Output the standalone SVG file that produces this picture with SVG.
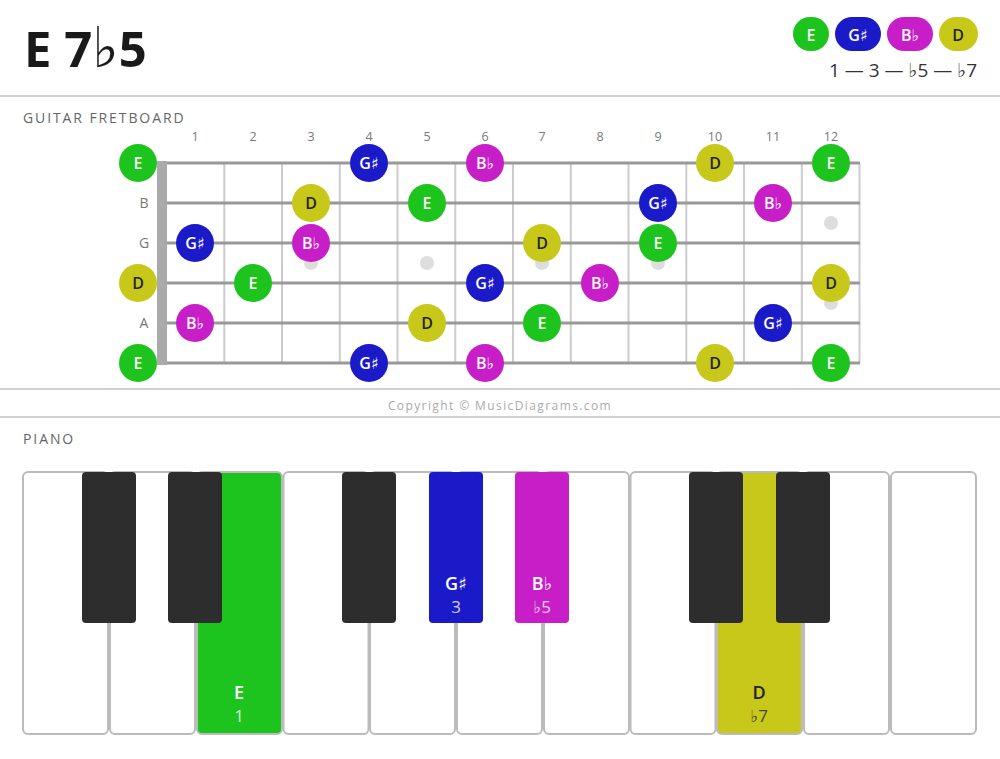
<svg xmlns="http://www.w3.org/2000/svg" width="1000" height="759" viewBox="0 0 1000 759">
<style>
text{font-family:"Open Sans","Noto Sans","DejaVu Sans",sans-serif}
.sep{stroke:#d0d0d0;stroke-width:2}
.hdr{font-size:14px;fill:#666;letter-spacing:1.9px}
.fn{font-size:12.5px;fill:#777;text-anchor:middle}
.sl{font-size:14px;fill:#777;text-anchor:middle}
.str{stroke:#999;stroke-width:3}
.fret{stroke:#ccc;stroke-width:2}
.dot{fill:#ddd}
.wk{fill:#fff;stroke:#bbb;stroke-width:2}
.bk{fill:#2d2d2d}
.E{fill:#1ec41e}.Gs{fill:#1a1ac8}.Bb{fill:#c81ec8}.D{fill:#c8c81a}
.nl{font-size:16px;font-weight:600;text-anchor:middle}
.w{fill:#fff}.k{fill:#222}
.pl{font-size:18px;font-weight:600;text-anchor:middle}
.pi{font-size:17px;text-anchor:middle}
</style>
<rect width="1000" height="759" fill="#fff"/>
<g id="title"><text x="24" y="67" font-size="49" font-weight="bold" fill="#1a1a1a">E 7<tspan font-weight="normal" font-family="DejaVu Sans, sans-serif" font-size="56">♭</tspan>5</text></g>
<g id="legend">
<rect x="793" y="17" width="36" height="34" rx="17" class="E"/><text x="811" y="41" class="nl w">E</text>
<rect x="835" y="17" width="46" height="34" rx="17" class="Gs"/><text x="858" y="41" class="nl w">G♯</text>
<rect x="887" y="17" width="46" height="34" rx="17" class="Bb"/><text x="910" y="41" class="nl w">B♭</text>
<rect x="939" y="17" width="39" height="34" rx="17" class="D"/><text x="958" y="41" class="nl k">D</text>
<text x="977" y="77" font-size="19" fill="#333" text-anchor="end">1 — 3 — ♭5 — ♭7</text>
</g>
<g id="separators">
<line x1="0" y1="96" x2="1000" y2="96" class="sep"/>
<line x1="0" y1="389" x2="1000" y2="389" class="sep"/>
<line x1="0" y1="417" x2="1000" y2="417" class="sep"/>
</g>
<text x="23" y="123" class="hdr">GUITAR FRETBOARD</text>
<g id="fretboard">
<g id="inlays">
<circle cx="311" cy="263" r="7" class="dot"/><circle cx="427" cy="263" r="7" class="dot"/><circle cx="542" cy="263" r="7" class="dot"/><circle cx="658" cy="263" r="7" class="dot"/>
<circle cx="831" cy="223" r="7" class="dot"/><circle cx="831" cy="303" r="7" class="dot"/>
</g>
<g id="frets">
<line x1="224.3" y1="163" x2="224.3" y2="363" class="fret"/><line x1="282" y1="163" x2="282" y2="363" class="fret"/><line x1="339.8" y1="163" x2="339.8" y2="363" class="fret"/><line x1="397.5" y1="163" x2="397.5" y2="363" class="fret"/><line x1="455.3" y1="163" x2="455.3" y2="363" class="fret"/><line x1="513" y1="163" x2="513" y2="363" class="fret"/><line x1="570.8" y1="163" x2="570.8" y2="363" class="fret"/><line x1="628.5" y1="163" x2="628.5" y2="363" class="fret"/><line x1="686.3" y1="163" x2="686.3" y2="363" class="fret"/><line x1="744" y1="163" x2="744" y2="363" class="fret"/><line x1="801.8" y1="163" x2="801.8" y2="363" class="fret"/><line x1="859.5" y1="163" x2="859.5" y2="363" class="fret"/>
</g>
<g id="strings">
<line x1="160" y1="163" x2="860" y2="163" class="str"/><line x1="160" y1="203" x2="860" y2="203" class="str"/><line x1="160" y1="243" x2="860" y2="243" class="str"/><line x1="160" y1="283" x2="860" y2="283" class="str"/><line x1="160" y1="323" x2="860" y2="323" class="str"/><line x1="160" y1="363" x2="860" y2="363" class="str"/>
</g>
<rect id="nut" x="157" y="161" width="10" height="204" fill="#aaa"/>
<g id="fret-numbers">
<text x="195" y="141" class="fn">1</text><text x="253" y="141" class="fn">2</text><text x="311" y="141" class="fn">3</text><text x="369" y="141" class="fn">4</text><text x="427" y="141" class="fn">5</text><text x="485" y="141" class="fn">6</text><text x="542" y="141" class="fn">7</text><text x="600" y="141" class="fn">8</text><text x="658" y="141" class="fn">9</text><text x="715" y="141" class="fn">10</text><text x="773" y="141" class="fn">11</text><text x="831" y="141" class="fn">12</text>
</g>
<g id="string-labels">
<text x="144" y="208" class="sl">B</text><text x="144" y="248" class="sl">G</text><text x="144" y="328" class="sl">A</text>
</g>
<g id="notes">
<g id="s1"><circle cx="138" cy="163" r="19" class="E"/><text x="138" y="169" class="nl w">E</text>
<circle cx="369" cy="163" r="19" class="Gs"/><text x="369" y="169" class="nl w">G♯</text>
<circle cx="485" cy="163" r="19" class="Bb"/><text x="485" y="169" class="nl w">B♭</text>
<circle cx="715" cy="163" r="19" class="D"/><text x="715" y="169" class="nl k">D</text>
<circle cx="831" cy="163" r="19" class="E"/><text x="831" y="169" class="nl w">E</text></g>
<g id="s2"><circle cx="311" cy="203" r="19" class="D"/><text x="311" y="209" class="nl k">D</text>
<circle cx="427" cy="203" r="19" class="E"/><text x="427" y="209" class="nl w">E</text>
<circle cx="658" cy="203" r="19" class="Gs"/><text x="658" y="209" class="nl w">G♯</text>
<circle cx="773" cy="203" r="19" class="Bb"/><text x="773" y="209" class="nl w">B♭</text></g>
<g id="s3"><circle cx="195" cy="243" r="19" class="Gs"/><text x="195" y="249" class="nl w">G♯</text>
<circle cx="311" cy="243" r="19" class="Bb"/><text x="311" y="249" class="nl w">B♭</text>
<circle cx="542" cy="243" r="19" class="D"/><text x="542" y="249" class="nl k">D</text>
<circle cx="658" cy="243" r="19" class="E"/><text x="658" y="249" class="nl w">E</text></g>
<g id="s4"><circle cx="138" cy="283" r="19" class="D"/><text x="138" y="289" class="nl k">D</text>
<circle cx="253" cy="283" r="19" class="E"/><text x="253" y="289" class="nl w">E</text>
<circle cx="485" cy="283" r="19" class="Gs"/><text x="485" y="289" class="nl w">G♯</text>
<circle cx="600" cy="283" r="19" class="Bb"/><text x="600" y="289" class="nl w">B♭</text>
<circle cx="831" cy="283" r="19" class="D"/><text x="831" y="289" class="nl k">D</text></g>
<g id="s5"><circle cx="195" cy="323" r="19" class="Bb"/><text x="195" y="329" class="nl w">B♭</text>
<circle cx="427" cy="323" r="19" class="D"/><text x="427" y="329" class="nl k">D</text>
<circle cx="542" cy="323" r="19" class="E"/><text x="542" y="329" class="nl w">E</text>
<circle cx="773" cy="323" r="19" class="Gs"/><text x="773" y="329" class="nl w">G♯</text></g>
<g id="s6"><circle cx="138" cy="363" r="19" class="E"/><text x="138" y="369" class="nl w">E</text>
<circle cx="369" cy="363" r="19" class="Gs"/><text x="369" y="369" class="nl w">G♯</text>
<circle cx="485" cy="363" r="19" class="Bb"/><text x="485" y="369" class="nl w">B♭</text>
<circle cx="715" cy="363" r="19" class="D"/><text x="715" y="369" class="nl k">D</text>
<circle cx="831" cy="363" r="19" class="E"/><text x="831" y="369" class="nl w">E</text></g>
</g>
</g>
<text x="500" y="410" font-size="12" fill="#aaa" text-anchor="middle" letter-spacing="1.4">Copyright © MusicDiagrams.com</text>
<text x="23" y="444" class="hdr">PIANO</text>
<g id="piano">
<g id="white-keys">
<rect x="23" y="472" width="85" height="262" rx="5" class="wk"/>
<rect x="110" y="472" width="85" height="262" rx="5" class="wk"/>
<rect x="197" y="472" width="85" height="262" rx="5" class="wk" style="fill:#1ec41e"/>
<rect x="283.5" y="472" width="85" height="262" rx="5" class="wk"/>
<rect x="370" y="472" width="85" height="262" rx="5" class="wk"/>
<rect x="457" y="472" width="85" height="262" rx="5" class="wk"/>
<rect x="544" y="472" width="85" height="262" rx="5" class="wk"/>
<rect x="630.5" y="472" width="85" height="262" rx="5" class="wk"/>
<rect x="717" y="472" width="85" height="262" rx="5" class="wk" style="fill:#c8c81a"/>
<rect x="804" y="472" width="85" height="262" rx="5" class="wk"/>
<rect x="891" y="472" width="85" height="262" rx="5" class="wk"/>
</g>
<g id="black-keys">
<rect x="82" y="472" width="54" height="151" rx="4" class="bk"/>
<rect x="168" y="472" width="54" height="151" rx="4" class="bk"/>
<rect x="342" y="472" width="54" height="151" rx="4" class="bk"/>
<rect x="429" y="472" width="54" height="151" rx="4" class="Gs"/>
<rect x="515" y="472" width="54" height="151" rx="4" class="Bb"/>
<rect x="689" y="472" width="54" height="151" rx="4" class="bk"/>
<rect x="776" y="472" width="54" height="151" rx="4" class="bk"/>
</g>
<g id="key-labels">
<text x="239" y="699" class="pl w">E</text><text x="239" y="722" class="pi" fill="#fff" fill-opacity="0.8">1</text>
<text x="456" y="590" class="pl w">G♯</text><text x="456" y="613" class="pi" fill="#fff" fill-opacity="0.8">3</text>
<text x="542" y="590" class="pl w">B♭</text><text x="542" y="613" class="pi" fill="#fff" fill-opacity="0.8">♭5</text>
<text x="759" y="699" class="pl k">D</text><text x="759" y="722" class="pi" fill="#222" fill-opacity="0.8">♭7</text>
</g>
</g>
</svg>
